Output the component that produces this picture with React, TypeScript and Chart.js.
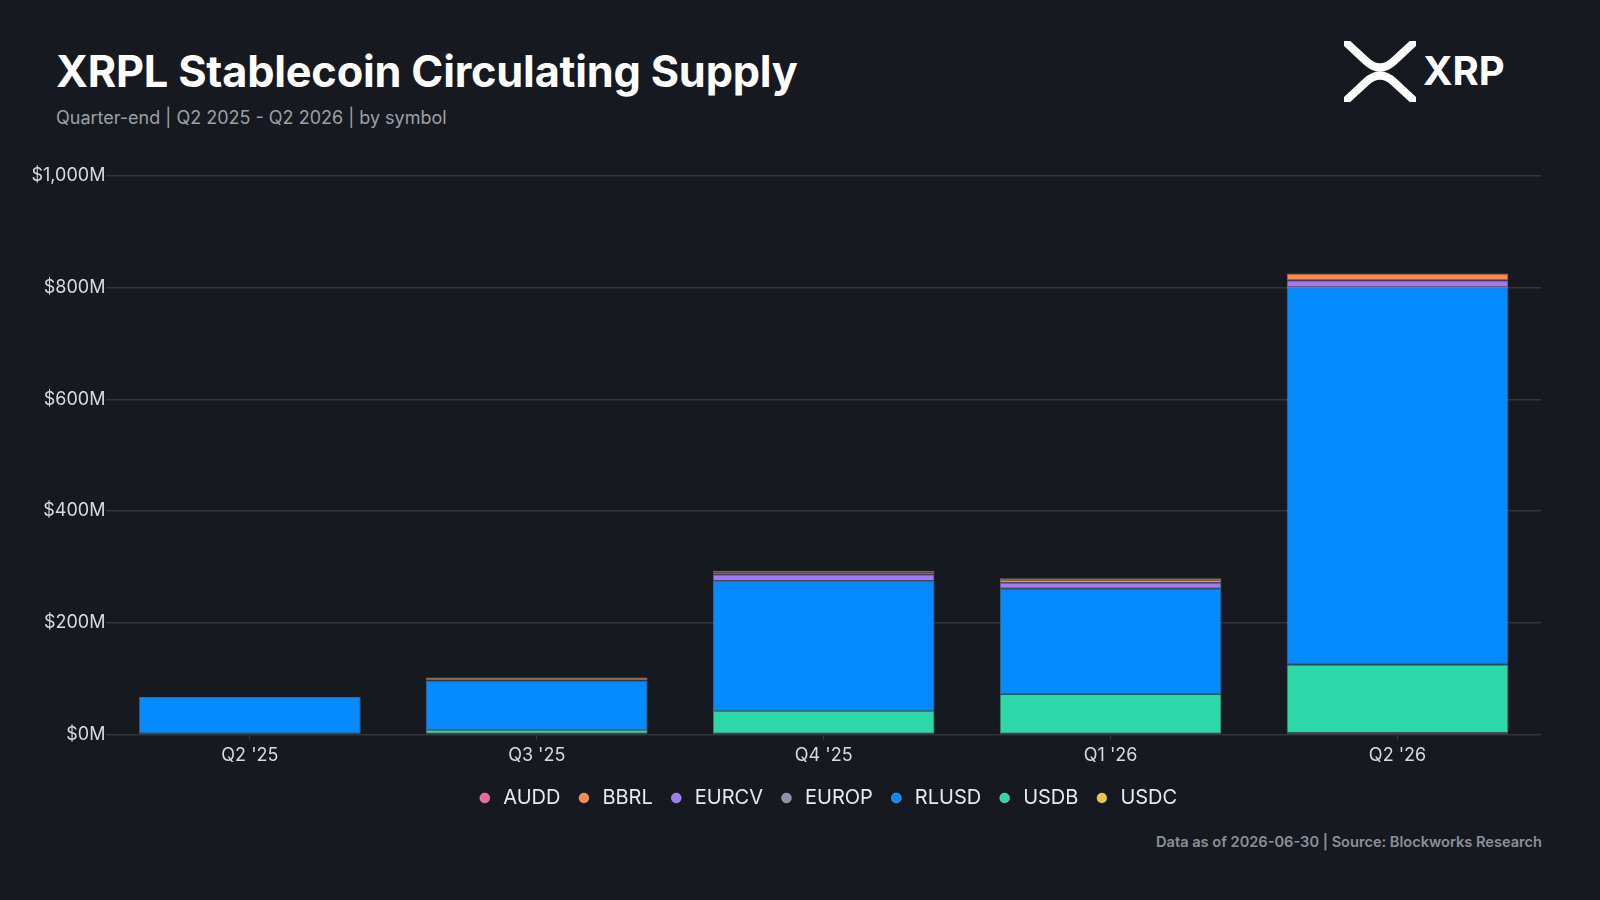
import React, { useEffect, useRef } from "react";
import { Chart, registerables } from "chart.js";

Chart.register(...registerables);

const categories = ["Q2 '25", "Q3 '25", "Q4 '25", "Q1 '26", "Q2 '26"];
// stacked bottom -> top (null = not present that quarter)
const usdc = [null, null, null, null, 3];
const usdb = [null, 8, 42, 72, 122];
const rlusd = [67, 88, 233, 189, 676];
const europ = [null, 0.5, null, null, null];
const eurcv = [null, 1, 11.5, 10.5, 12];
const bbrl = [null, 4, 4, 5, 12];
const audd = [null, 1, 2.5, 3, 1];
const yTicks = [0, 200, 400, 600, 800, 1000];

const seriesNames = ["USDC", "USDB", "RLUSD", "EUROP", "EURCV", "BBRL", "AUDD"];
const seriesValues = [usdc, usdb, rlusd, europ, eurcv, bbrl, audd];
const seriesColors = ["#f7c244", "#2dd8a8", "#058aff", "#8a94a6", "#a079f4", "#ff8a45", "#f2649f"];

const BG = "#161a20";

const legendToChartArea = {
  id: "legendToChartArea",
  afterLayout(chart: any) {
    const l = chart.legend;
    const ca = chart.chartArea;
    if (l && ca) {
      l.left = ca.left + 3;
      l.right = ca.right + 3;
      l.top += 2;
      l.bottom += 2;
    }
  },
};

export default function App() {
  const canvasRef = useRef<HTMLCanvasElement | null>(null);

  useEffect(() => {
    document.body.style.margin = "0";
    const ctx = canvasRef.current;
    if (!ctx) return;
    const chart = new Chart(ctx, {
      type: "bar",
      data: {
        labels: categories,
        datasets: seriesNames.map((name, i) => ({
          label: name,
          data: seriesValues[i],
          backgroundColor: seriesColors[i],
          borderColor: "rgba(235,242,250,0.38)",
          borderWidth: 0.8,
          borderSkipped: false,
          barPercentage: 0.772,
          categoryPercentage: 1,
        })),
      },
      options: {
        animation: false,
        responsive: true,
        maintainAspectRatio: false,
        layout: { padding: { left: 30.5, right: 59, top: 36, bottom: 14 } },
        scales: {
          x: {
            stacked: true,
            grid: {
              display: true,
              drawOnChartArea: false,
              offset: false,
              tickLength: 5,
              color: "#3a3f47",
            },
            border: { display: false },
            ticks: {
              color: "#d6dae0",
              font: { family: "Inter", size: 18 },
              padding: 5,
            },
          },
          y: {
            stacked: true,
            min: 0,
            max: 1000,
            afterBuildTicks: (axis: any) => {
              axis.ticks = yTicks.map((v) => ({ value: v }));
            },
            grid: { color: "#30343b", drawTicks: false, lineWidth: 1.5 },
            border: { display: false },
            ticks: {
              color: "#d6dae0",
              font: { family: "Inter", size: 18 },
              padding: 1,
              callback: (v: any) => "$" + Number(v).toLocaleString("en-US") + "M",
            },
          },
        },
        plugins: {
          legend: {
            position: "bottom",
            reverse: true,
            labels: {
              color: "#e6e9ee",
              font: { family: "Inter", size: 20 },
              usePointStyle: true,
              pointStyle: "circle",
              boxWidth: 17,
              boxHeight: 7,
              padding: 15,
            },
          },
          tooltip: { enabled: false },
          title: { display: false },
        },
      },
      plugins: [legendToChartArea],
    });
    return () => chart.destroy();
  }, []);

  return (
    <div
      style={{
        position: "fixed",
        left: 0,
        top: 0,
        width: 1600,
        height: 900,
        background: BG,
        fontFamily: "Inter, 'Noto Sans', sans-serif",
        overflow: "hidden",
      }}
    >
      <div
        style={{
          position: "absolute",
          left: 56,
          top: 44,
          fontSize: 43.3,
          fontWeight: 700,
          color: "#ffffff",
          lineHeight: "54px",
          letterSpacing: "-0.2px",
        }}
      >
        XRPL Stablecoin Circulating Supply
      </div>
      <div
        style={{
          position: "absolute",
          left: 56,
          top: 106,
          fontSize: 18,
          color: "#9aa0a8",
          lineHeight: "24px",
        }}
      >
        Quarter-end | Q2 2025 - Q2 2026 | by symbol
      </div>
      <svg
        style={{ position: "absolute", left: 1344, top: 41 }}
        width={72}
        height={61}
        viewBox="0 0 72 61"
      >
        <path d="M -5,-5 L 22,20 Q 36,33 50,20 L 77,-5" fill="none" stroke="#ffffff" strokeWidth={8} />
        <path d="M -5,66 L 22,41 Q 36,28 50,41 L 77,66" fill="none" stroke="#ffffff" strokeWidth={8} />
      </svg>
      <div
        style={{
          position: "absolute",
          left: 1423,
          top: 47,
          fontSize: 40,
          fontWeight: 700,
          color: "#ffffff",
          lineHeight: "48px",
        }}
      >
        XRP
      </div>
      <div
        style={{
          position: "absolute",
          left: 0,
          top: 140,
          width: 1600,
          height: 690,
        }}
      >
        <canvas ref={canvasRef} />
      </div>
      <div
        style={{
          position: "absolute",
          right: 58,
          top: 832,
          fontSize: 14.6,
          fontWeight: 600,
          color: "#8b9098",
          lineHeight: "20px",
        }}
      >
        Data as of 2026-06-30 | Source: Blockworks Research
      </div>
    </div>
  );
}
